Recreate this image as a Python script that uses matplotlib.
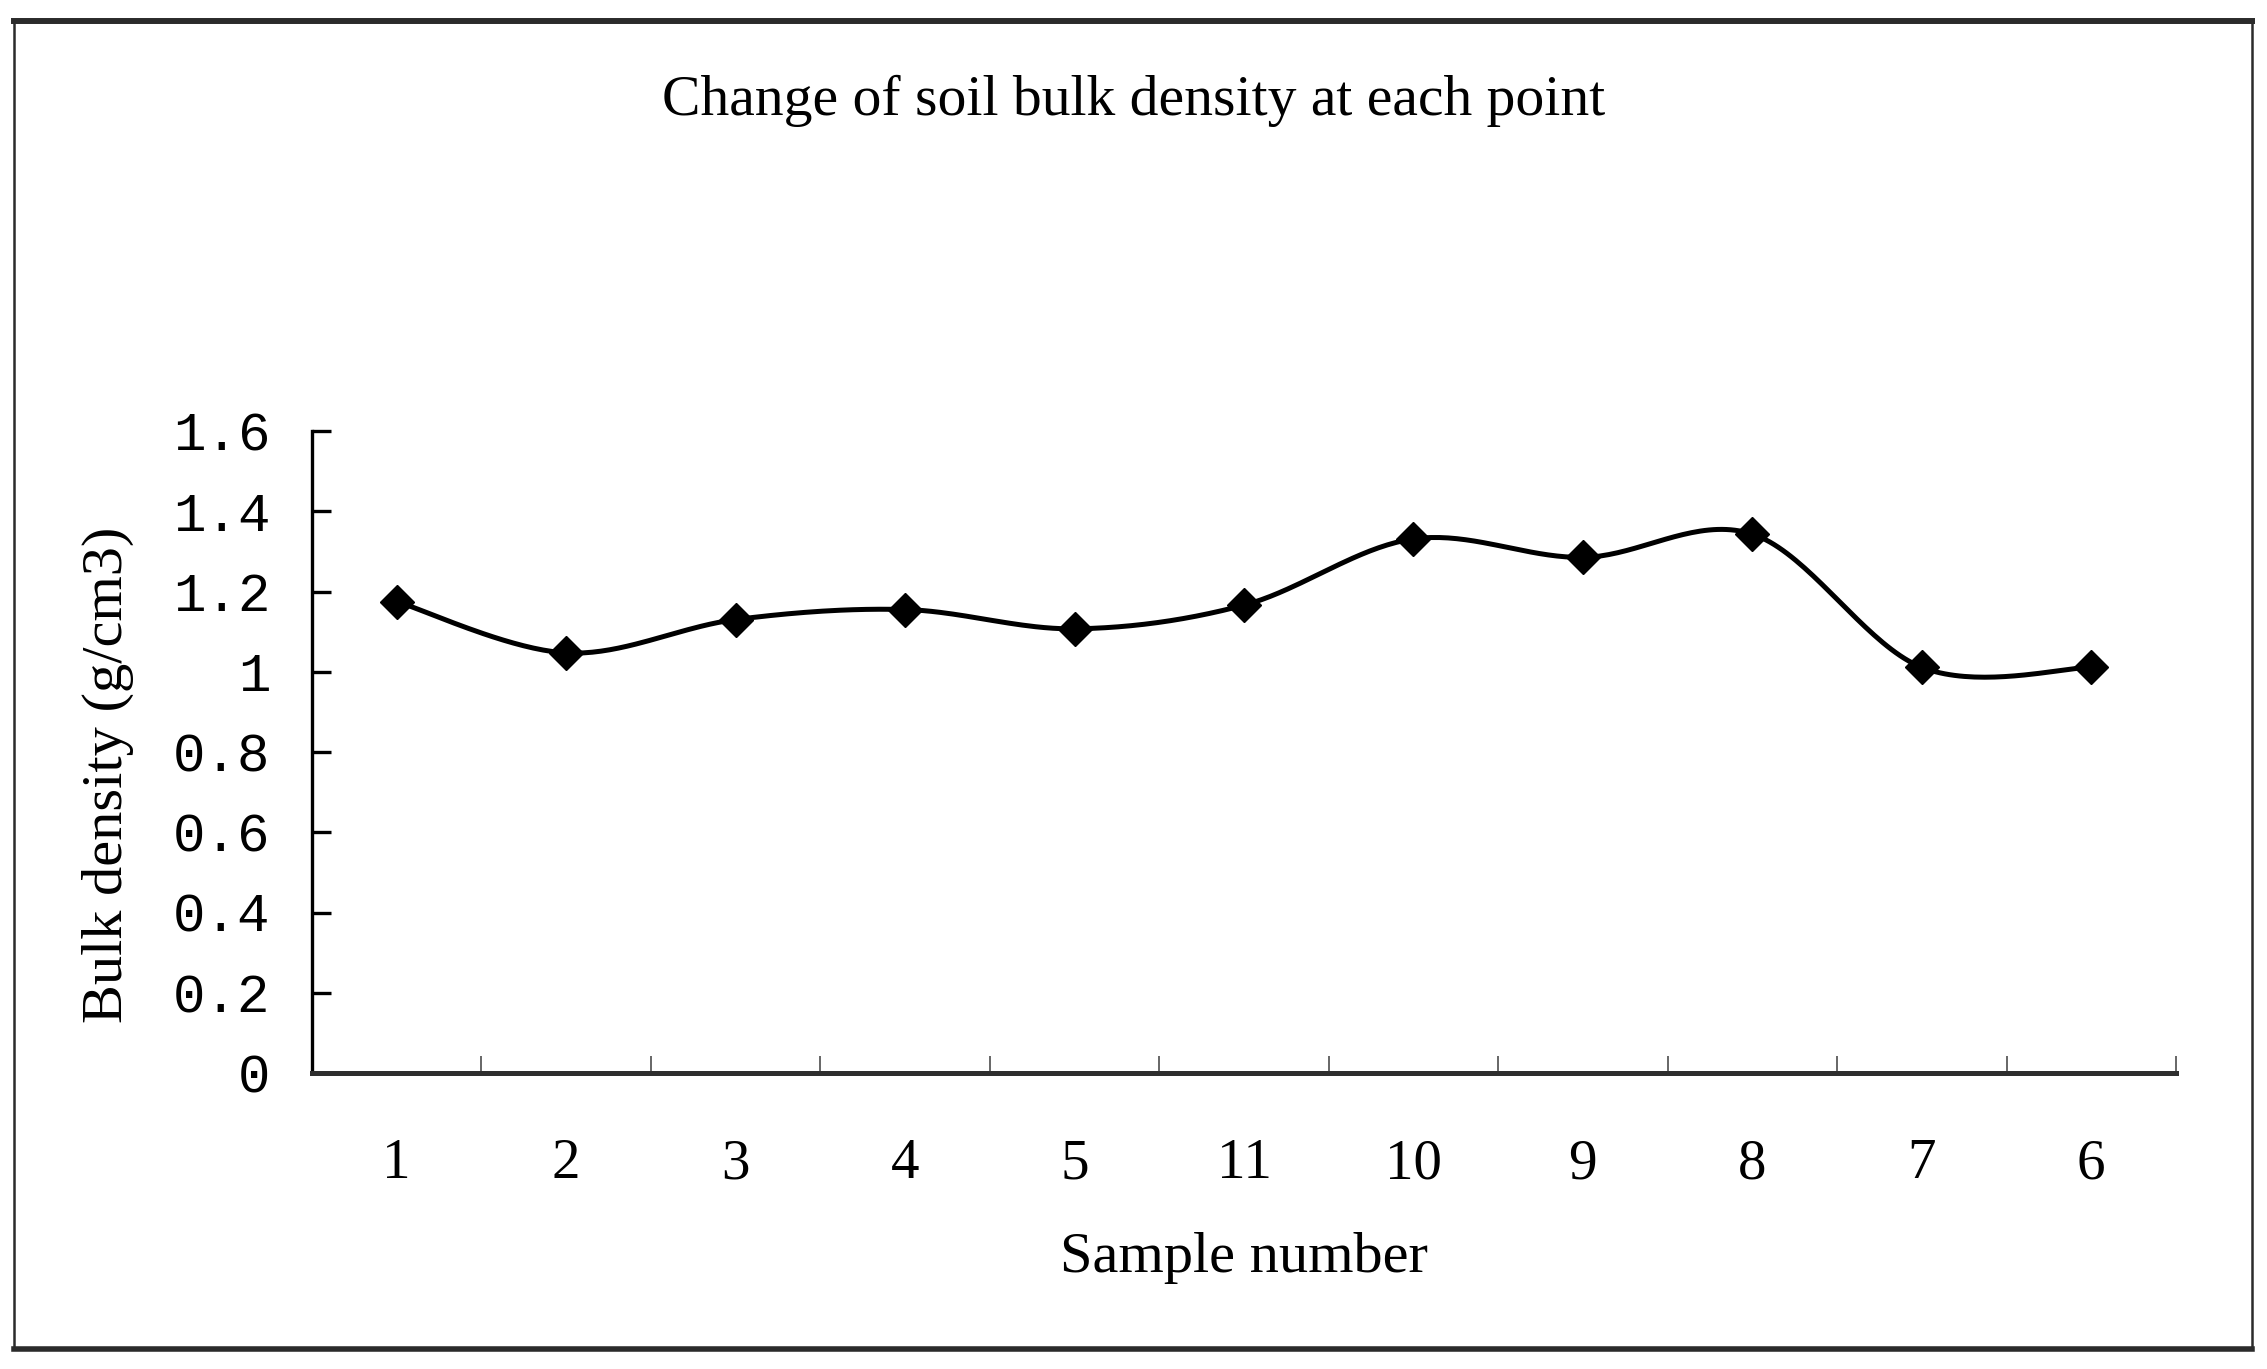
import numpy as np
import matplotlib
matplotlib.use('Agg')
import matplotlib.pyplot as plt
from matplotlib.lines import Line2D

# data
samples = ['1', '2', '3', '4', '5', '11', '10', '9', '8', '7', '6']
bulk_density = [1.175, 1.047, 1.130, 1.155, 1.107, 1.166, 1.331, 1.285, 1.343, 1.011, 1.011]
y_ticks = [0, 0.2, 0.4, 0.6, 0.8, 1.0, 1.2, 1.4, 1.6]
y_tick_labels = ['0', '0.2', '0.4', '0.6', '0.8', '1', '1.2', '1.4', '1.6']

title = 'Change of soil bulk density at each point'
x_label = 'Sample number'
y_label = 'Bulk density (g/cm3)'


def smooth(xs, ys, n=40):
    # Excel-like smoothed line: cubic Bezier through the points
    p = np.column_stack([xs, ys]).astype(float)
    p_ext = np.vstack([p[0], p, p[-1]])
    out = []
    t = np.linspace(0, 1, n)[:, None]
    for i in range(len(p) - 1):
        p0, p1, p2, p3 = p_ext[i], p_ext[i + 1], p_ext[i + 2], p_ext[i + 3]
        c1 = p1 + (p2 - p0) / 6
        c2 = p2 - (p3 - p1) / 6
        seg = ((1 - t) ** 3) * p1 + 3 * ((1 - t) ** 2) * t * c1 \
            + 3 * (1 - t) * t ** 2 * c2 + t ** 3 * p2
        out.append(seg if i == 0 else seg[1:])
    out = np.vstack(out)
    return out[:, 0], out[:, 1]


W, H = 2267, 1369
fig = plt.figure(figsize=(W / 100, H / 100), dpi=100)
ax = fig.add_axes([312 / W, 296 / H, 1864 / W, 642 / H])

x = np.arange(len(samples))
sx, sy = smooth(x, bulk_density)
ax.plot(sx, sy, color='black', lw=3.6, solid_capstyle='round')
ax.plot(x, bulk_density, ls='none', marker='D', ms=17, color='black')

ax.set_xlim(-0.5, len(samples) - 0.5)
ax.set_ylim(0, 1.6)

for s in ['top', 'right']:
    ax.spines[s].set_visible(False)
ax.spines['left'].set_linewidth(2.4)
ax.spines['left'].set_color('black')
ax.spines['bottom'].set_linewidth(3.6)
ax.spines['bottom'].set_color('#2e2e2e')

ax.set_yticks(y_ticks)
ax.set_yticklabels(y_tick_labels, family='Liberation Mono', fontsize=39)
ax.tick_params(axis='y', direction='in', length=14, width=2.4, pad=30)

# tick marks on category boundaries, labels at category centres
ax.set_xticks(np.arange(len(samples)) + 0.5)
ax.set_xticklabels([])
ax.set_xticks(x, minor=True)
ax.set_xticklabels(samples, minor=True, family='Liberation Serif', fontsize=41)
ax.tick_params(axis='x', which='major', direction='in', length=12, width=1.4, color='#666666')
ax.tick_params(axis='x', which='minor', length=0, pad=47)

ax.set_xlabel(x_label, family='Liberation Serif', fontsize=42, va='center')
ax.xaxis.set_label_coords(0.5, -0.288)
ax.set_ylabel(y_label, family='Liberation Serif', fontsize=42, va='center')
ax.yaxis.set_label_coords(-0.1094, 0.464)

fig.text(0.5, 1 - 101 / H, title, family='Liberation Serif', fontsize=41.5,
         ha='center', va='center')

# outer frame
fx0, fx1 = 14 / W, 2252 / W
fy0, fy1 = 1 - 1349 / H, 1 - 21 / H
fc = '#2b2b2b'
fig.add_artist(Line2D([fx0, fx1], [fy1, fy1], color=fc, lw=4.3, transform=fig.transFigure))
fig.add_artist(Line2D([fx0, fx1], [fy0, fy0], color=fc, lw=4.0, transform=fig.transFigure))
fig.add_artist(Line2D([fx0, fx0], [fy0, fy1], color=fc, lw=1.8, transform=fig.transFigure))
fig.add_artist(Line2D([fx1, fx1], [fy0, fy1], color=fc, lw=1.8, transform=fig.transFigure))

fig.savefig('out.png', dpi=100, facecolor='white')
